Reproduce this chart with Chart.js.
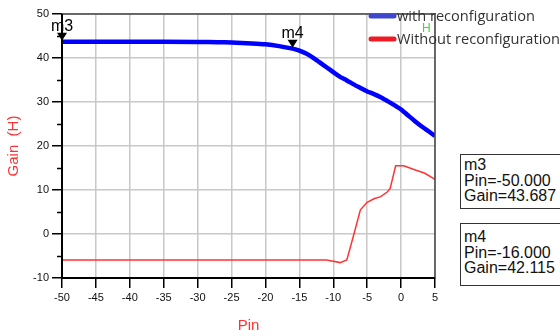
<!DOCTYPE html>
<html>
<head>
<meta charset="utf-8">
<script src="https://cdn.jsdelivr.net/npm/chart.js@4.4.1/dist/chart.umd.min.js"></script>
<style>
  body { margin: 0; background: #fff; overflow: hidden; }
  #wrap { position: relative; width: 560px; height: 336px; }
  .mbox {
    position: absolute; left: 460px; width: 106px;
    border: 1.5px solid #333; background: #fff;
    font: 16px "Liberation Sans", Arial, sans-serif; line-height: 15.5px;
    color: #111; padding: 2px 3px; box-sizing: border-box;
  }
</style>
</head>
<body>
<div id="wrap">
  <canvas id="myChart" width="560" height="336"></canvas>
  <div class="mbox" id="box-m3" style="top:154px;height:55px;"></div>
  <div class="mbox" id="box-m4" style="top:223px;height:63px;padding-top:5px;"></div>
</div>
<script>
// data (Pin in dBm, Gain)
const withPin = [-50, -40, -30, -27, -25, -22, -20, -18, -16, -15, -14, -13, -12, -11, -10, -9, -8, -7, -6, -5, -4, -3, -2, -1, 0, 1, 2, 3, 4, 5];
const withGain = [43.69, 43.69, 43.65, 43.6, 43.5, 43.3, 43.1, 42.7, 42.12, 41.7, 41.0, 40.1, 39.0, 37.9, 36.8, 35.7, 34.9, 34.0, 33.2, 32.4, 31.8, 31.1, 30.2, 29.3, 28.3, 27.0, 25.7, 24.5, 23.4, 22.3];

const withoutPin = [-50, -11, -10, -9, -8, -7, -6, -5, -4, -3, -2, -1.6, -0.8, 0.4, 2, 3.5, 5];
const withoutGain = [-5.9, -5.9, -6.2, -6.5, -5.9, -0.3, 5.5, 7.2, 8.0, 8.5, 9.6, 10.4, 15.5, 15.5, 14.6, 13.8, 12.4];

const markerNames = ['m3', 'm4'];
const markerPin = [-50, -16];
const markerGain = [43.687, 42.115];

const xMin = -50, xMax = 5, yMin = -10, yMax = 50;

function toPoints(xs, ys) {
    return xs.map(function (x, i) { return { x: x, y: ys[i] }; });
}

// marker readout boxes
for (let i = 0; i < markerNames.length; i++) {
    document.getElementById('box-' + markerNames[i]).innerHTML =
        markerNames[i] + '<br>Pin=' + markerPin[i].toFixed(3) + '<br>Gain=' + markerGain[i].toFixed(3);
}

const extras = {
    id: 'extras',
    afterDraw(chart) {
        const ctx = chart.ctx;
        const a = chart.chartArea;
        const xs = chart.scales.x, ys = chart.scales.y;
        ctx.save();

        // minor ticks on y
        ctx.strokeStyle = '#000';
        ctx.lineWidth = 1.5;
        for (let v = yMin + 5; v < yMax; v += 10) {
            const py = Math.round(ys.getPixelForValue(v)) + 0.5;
            ctx.beginPath();
            ctx.moveTo(a.left - 5, py);
            ctx.lineTo(a.left, py);
            ctx.stroke();
        }

        // frame
        ctx.strokeStyle = '#444';
        ctx.lineWidth = 1.5;
        ctx.strokeRect(a.left, a.top, a.right - a.left, a.bottom - a.top);
        ctx.strokeStyle = '#000';
        ctx.lineWidth = 2;
        ctx.beginPath();
        ctx.moveTo(a.left, a.top);
        ctx.lineTo(a.left, a.bottom);
        ctx.lineTo(a.right, a.bottom);
        ctx.stroke();

        // markers
        ctx.fillStyle = '#000';
        ctx.font = '16px "Liberation Sans", Arial, sans-serif';
        ctx.textAlign = 'center';
        ctx.textBaseline = 'alphabetic';
        for (let i = 0; i < markerNames.length; i++) {
            const px = xs.getPixelForValue(markerPin[i]);
            const py = ys.getPixelForValue(markerGain[i]) - 1;
            ctx.beginPath();
            ctx.moveTo(px, py);
            ctx.lineTo(px - 5, py - 8);
            ctx.lineTo(px + 5, py - 8);
            ctx.closePath();
            ctx.fill();
            ctx.fillText(markerNames[i], px, py - 10);
        }

        // axis titles
        ctx.fillStyle = '#ff3333';
        ctx.font = '15px "Liberation Sans", Arial, sans-serif';
        ctx.textAlign = 'center';
        ctx.textBaseline = 'middle';
        ctx.fillText('Pin', (a.left + a.right) / 2, 326);
        ctx.save();
        ctx.translate(14, 146);
        ctx.rotate(-Math.PI / 2);
        ctx.fillText('Gain  (H)', 0, 0);
        ctx.restore();

        // legend
        ctx.lineCap = 'round';
        ctx.lineWidth = 5;
        ctx.strokeStyle = '#3f48cc';
        ctx.beginPath(); ctx.moveTo(371, 16); ctx.lineTo(394, 16); ctx.stroke();
        ctx.strokeStyle = '#ed1c24';
        ctx.beginPath(); ctx.moveTo(371, 39); ctx.lineTo(394, 39); ctx.stroke();
        ctx.fillStyle = '#333';
        ctx.font = '14.6px "Open Sans", sans-serif';
        ctx.textAlign = 'left';
        ctx.textBaseline = 'alphabetic';
        ctx.fillText('with reconfiguration', 397, 21);
        ctx.fillText('Without reconfiguration', 397, 44);
        ctx.fillStyle = '#33dd33';
        ctx.font = '12px "Liberation Sans", Arial, sans-serif';
        ctx.fillText('H', 422, 32);

        ctx.restore();
    }
};

const ctx = document.getElementById('myChart').getContext('2d');
const myChart = new Chart(ctx, {
    type: 'line',
    data: {
        datasets: [
            {
                label: 'with reconfiguration',
                data: toPoints(withPin, withGain),
                borderColor: '#0000ff',
                borderWidth: 4.5,
                pointRadius: 0,
                tension: 0.2
            },
            {
                label: 'Without reconfiguration',
                data: toPoints(withoutPin, withoutGain),
                borderColor: '#ff3333',
                borderWidth: 1.5,
                pointRadius: 0,
                tension: 0
            }
        ]
    },
    options: {
        responsive: false,
        animation: false,
        layout: { padding: { left: 0, right: 125, top: 14, bottom: 0 } },
        plugins: {
            legend: { display: false },
            tooltip: { enabled: false }
        },
        scales: {
            x: {
                type: 'linear',
                min: xMin,
                max: xMax,
                afterFit: function (scale) { scale.height = 58; },
                border: { display: false },
                grid: { color: '#c8c8c8', lineWidth: 1.5, tickColor: '#000', tickLength: 10 },
                ticks: {
                    stepSize: 5,
                    padding: 3,
                    color: '#111',
                    font: { family: '"Liberation Sans", Arial, sans-serif', size: 11 }
                }
            },
            y: {
                min: yMin,
                max: yMax,
                afterFit: function (scale) { scale.width = 62; },
                border: { display: false },
                grid: {
                    lineWidth: 1.5,
                    tickLength: 10,
                    color: function (c) { return c.tick && c.tick.value % 10 === 0 ? '#c8c8c8' : 'rgba(0,0,0,0)'; },
                    tickColor: function (c) { return c.tick && c.tick.value % 10 === 0 ? '#000' : 'rgba(0,0,0,0)'; }
                },
                ticks: {
                    stepSize: 5,
                    padding: 3,
                    color: '#111',
                    font: { family: '"Liberation Sans", Arial, sans-serif', size: 11 },
                    callback: function (value) { return value % 10 === 0 ? value : ''; }
                }
            }
        }
    },
    plugins: [extras]
});
</script>
</body>
</html>
